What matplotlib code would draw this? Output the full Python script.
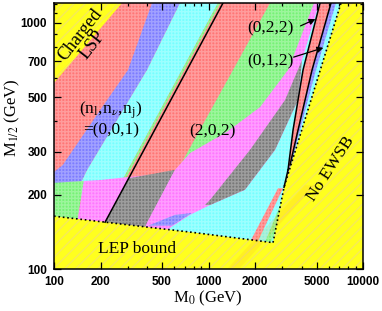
import matplotlib.pyplot as plt
from matplotlib.patches import Polygon

plt.rcParams['font.family'] = ['Liberation Serif', 'DejaVu Serif']
plt.rcParams['mathtext.fontset'] = 'stix'
plt.rcParams['hatch.linewidth'] = 1.0

# ---- region boundaries, points are (M0, M1/2) in GeV ----
charged_lsp = [(81, 489), (325, 1362), (81, 1362)]
lep_edge = [(100, 164), (782, 141), (2615, 128)]
ewsb_edge = [(2615, 128), (3082, 215), (3577, 291), (7205, 1206), (7647, 1362)]

# upper-left band family
blue_left = [(464, 1362), (431, 1206), (301, 644), (199, 443), (114, 265), (100, 248), (81, 219)]
blue_right = [(705, 1362), (654, 1206), (400, 644), (164, 253), (137, 200)]
cyan_right = [(1279, 1362), (1152, 1206), (729, 707), (516, 473), (301, 253), (237, 191)]
green_right = [(1327, 1362), (1196, 1206), (757, 707), (535, 473), (313, 253), (246, 191)]
line_l1 = [(1337, 1362), (1241, 1206), (214, 155)]

# lower-left family (below the break)
low_green = [(81, 222), (100, 224), (156, 228), (137, 137), (137, 90), (81, 90)]
low_magenta = [(156, 228), (199, 230), (310, 237), (485, 243), (635, 250), (635, 90), (137, 90), (137, 137)]
low_grey = [(306, 234), (607, 253), (400, 154), (360, 131), (184, 131)]
blue_patch = [(406, 150), (607, 166), (782, 169), (580, 150)]

# right band family
green_left = [(2776, 1362), (2500, 1206), (1441, 644), (726, 296), (635, 253)]
magenta_left = [(5112, 1362), (4818, 1206), (3271, 644), (2154, 455), (1317, 361), (759, 296),
                (607, 253), (400, 154), (360, 131), (310, 109)]
cyan_left = [(5508, 1362), (4030, 707), (3796, 486), (2694, 305), (1722, 210), (1023, 182),
             (759, 166), (563, 147), (418, 125), (418, 90)]
grey_left = [(4030, 707), (3127, 486), (1856, 305), (1023, 191), (949, 182)]
grey_right = [(4030, 707), (3796, 486), (2694, 305), (1722, 210), (1023, 182)]
line_l2 = [(5508, 1362), (5270, 1206), (4090, 644), (3524, 367), (3271, 253), (3082, 215)]
line_l3 = [(6393, 1362), (6206, 1206), (4677, 644), (3796, 367), (3369, 265), (3082, 215)]
line_l4 = [(6891, 1362), (6688, 1206), (4964, 644), (3910, 367), (3369, 253), (3082, 215)]
red_stripe = [(2818, 213), (3035, 213), (1971, 120), (1749, 120)]
green_stripe = [(3035, 194), (3320, 194), (2428, 120), (2219, 120)]
blue_stripe = [(3271, 166), (3470, 166), (2694, 120), (2500, 120)]
faint_stripe = [(4213, 219), (4893, 219), (1599, 101), (1337, 101)]

labels = ["(0,2,2)", "(0,1,2)", "(2,0,2)"]
label_pos = [(2500, 954), (2500, 701), (1054, 364)]
arrow_tail = [(3796, 963), (3420, 721)]
arrow_head = [(5112, 1048), (5760, 799)]

xticks = [100, 200, 500, 1000, 2000, 5000, 10000]
yticks = [100, 200, 300, 500, 700, 1000]
XMAX = 20000

RED = '#ff7676'
BLUE = '#7c7cff'
CYAN = '#76ffff'
GREEN = '#76f276'
MAGENTA = '#ff76ff'
GREY = '#787878'
YELLOW = '#ffff1e'


def right_of(line):
    return line + [(XMAX, line[-1][1]), (XMAX, line[0][1])]


def fill(ax, pts, color, **kw):
    ax.add_patch(Polygon(pts, closed=True, facecolor=color, edgecolor='none', lw=0, **kw))


fig = plt.figure(figsize=(3.82, 3.11), dpi=100)
ax = fig.add_axes([0.1414, 0.135, 0.8089, 0.8554])
ax.set_xscale('log')
ax.set_yscale('log')
ax.set_xlim(100, 10000)
ax.set_ylim(100, 1206)

# base colour of the allowed region
fill(ax, [(50, 50), (XMAX, 50), (XMAX, 2000), (50, 2000)], RED)

# upper-left bands
fill(ax, blue_left + blue_right[::-1], BLUE)
fill(ax, blue_right + cyan_right[::-1], CYAN)
fill(ax, cyan_right + green_right[::-1], GREEN)

# lower-left bands
fill(ax, low_green, GREEN)
fill(ax, low_magenta, MAGENTA)
fill(ax, low_grey, GREY)

# right bands
fill(ax, right_of(green_left), GREEN)
fill(ax, right_of(magenta_left), MAGENTA)
fill(ax, right_of(cyan_left), CYAN)
fill(ax, grey_left + grey_right[::-1][:-1], GREY)
fill(ax, blue_patch, BLUE)
fill(ax, right_of(line_l2), RED)
fill(ax, right_of(line_l3), BLUE)
fill(ax, right_of(line_l4), CYAN)
fill(ax, red_stripe, RED)
fill(ax, green_stripe, GREEN)
fill(ax, blue_stripe, BLUE)

# fine white mesh over the scanned region
ax.add_patch(Polygon([(50, 50), (XMAX, 50), (XMAX, 2000), (50, 2000)], closed=True,
                     facecolor='none', edgecolor=(1, 1, 1, 0.28), hatch='+++++', lw=0))

# excluded regions
excl = [(81, 166)] + lep_edge + ewsb_edge[1:] + [(XMAX, 1362), (XMAX, 60), (81, 60)]
for pts in (charged_lsp, excl):
    ax.add_patch(Polygon(pts, closed=True, facecolor=YELLOW, edgecolor='#f6ea5a',
                         hatch='///', lw=0))
fill(ax, faint_stripe, '#ffb030', alpha=0.18)

# boundary lines
for pts in (lep_edge, ewsb_edge):
    ax.plot([p[0] for p in pts], [p[1] for p in pts], color='black', ls=':', lw=1.2)
for pts in (line_l1, line_l2[:-1], line_l3[:-1]):
    ax.plot([p[0] for p in pts], [p[1] for p in pts], color='black', lw=1.1)
ax.plot([line_l2[-2][0], ewsb_edge[1][0]], [line_l2[-2][1], ewsb_edge[1][1]], color='black', lw=1.1)

# text labels
fs = 12.5
ax.text(161, 853, "Charged\nLSP", rotation=52, ha='center', va='center', fontsize=13,
        linespacing=0.9, rotation_mode='anchor')
ax.text(234, 443, r"(n$_\mathregular{l}$,n$_\nu$,n$_\mathregular{j}$)", ha='center', va='center', fontsize=fs)
ax.text(234, 367, "=(0,0,1)", ha='center', va='center', fontsize=fs)
for s, (x, y) in zip(labels, label_pos):
    ax.text(x, y, s, ha='center', va='center', fontsize=fs)
for t, h in zip(arrow_tail, arrow_head):
    ax.annotate('', xy=h, xytext=t,
                arrowprops=dict(arrowstyle='-|>', color='black', lw=0.9, mutation_scale=9))
ax.text(345, 121, "LEP bound", ha='center', va='center', fontsize=fs)
ax.text(6206, 255, "No EWSB", rotation=57, ha='center', va='center', fontsize=fs,
        rotation_mode='anchor')

# axes
ax.set_xticks(xticks)
ax.set_xticklabels([str(v) for v in xticks])
ax.set_yticks(yticks)
ax.set_yticklabels([str(v) for v in yticks])
ax.set_xticks([v for d in (100, 1000) for v in range(2 * d, 10 * d, d) if v not in xticks], minor=True)
ax.set_yticks([400, 600, 800, 900, 1100, 1200], minor=True)
ax.xaxis.set_minor_formatter(plt.NullFormatter())
ax.yaxis.set_minor_formatter(plt.NullFormatter())
ax.tick_params(which='both', direction='in', top=True, right=True, width=0.9)
ax.tick_params(which='major', length=5, pad=5)
ax.tick_params(which='minor', length=2.5)
for lab in ax.get_xticklabels() + ax.get_yticklabels():
    lab.set_fontfamily('Liberation Sans')
    lab.set_fontweight('bold')
    lab.set_fontsize(8.5)
for sp in ax.spines.values():
    sp.set_linewidth(1.1)

fig.text(208 / 382, 1 - 298 / 311, r"M$_0$ (GeV)", ha='center', va='center', fontsize=12)
fig.text(12 / 382, 1 - 118 / 311, r"M$_{1/2}$ (GeV)", ha='center', va='center', fontsize=12,
         rotation=90)

fig.savefig('out.png', dpi=100)
